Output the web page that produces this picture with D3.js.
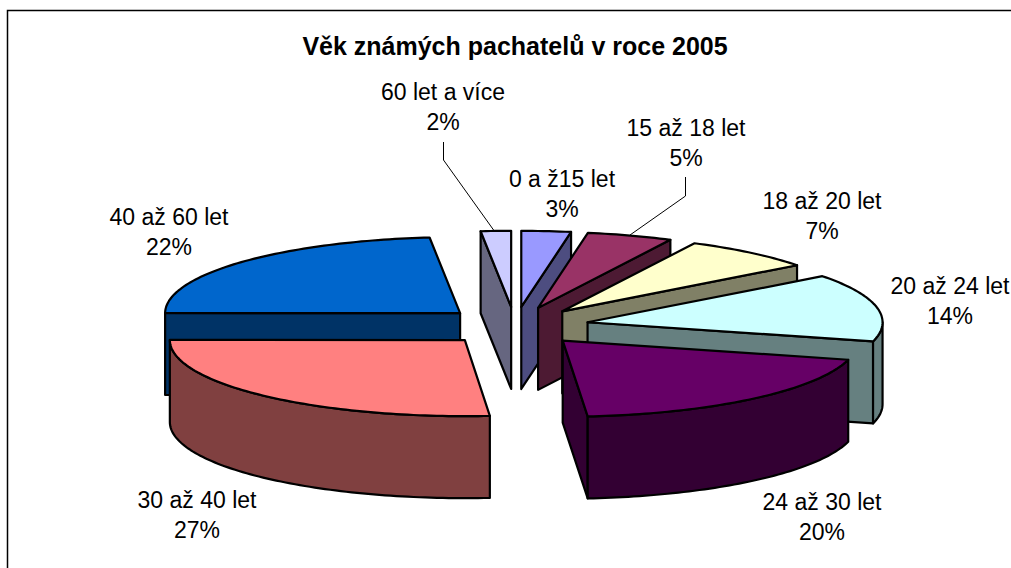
<!DOCTYPE html>
<html>
<head>
<meta charset="utf-8">
<script src="https://cdn.jsdelivr.net/npm/d3@7"></script>
<style>
  html, body { margin: 0; padding: 0; background: #fff; }
  svg { display: block; }
  text { font-family: "Liberation Sans", Arial, sans-serif; fill: #000; }
</style>
</head>
<body>
<script>
//Data.
//shares are the slice widths as drawn (the 3D view stretches them a little),
//percentLabels are the numbers as printed next to the slices
var categories = ["0 a ž15 let","15 až 18 let","18 až 20 let","20 až 24 let","24 až 30 let","30 až 40 let","40 až 60 let","60 let a více"];
var shares = [2.7,4.7,7.25,14.4,19.6,26.4,23.3,1.65];
var percentLabels = ["3%","5%","7%","14%","20%","27%","22%","2%"];
var sliceColors = ["#9999FF","#993366","#FFFFCC","#CCFFFF","#660066","#FF8080","#0066CC","#CCCCFF"];
var titleText = "Věk známých pachatelů v roce 2005";

//Size Globals:
var svgWidth = 1011, svgHeight = 568;
var cx = 515, cy = 326;
var radius = 295;
var tilt = 0.258;
var explode = 74;
var depth = 82;
var lineGap = 29.5;

//back to front, same as the reference stacks them
var drawOrder = [7,0,1,2,3,4,6,5];
//label anchors (first baseline), in category order
var labelPos = [[562,187],[686,136],[822,209],[950,294],[822,510],[197,508],[169,225],[443,100]];

var svg = d3.select("body").append("svg")
    .attr("id","mainsvg")
    .attr("width",svgWidth)
    .attr("height",svgHeight);

//chart frame, only top and left show
svg.append("path")
    .attr("d","M7.5," + svgHeight + "V10.5H" + svgWidth)
    .attr("fill","none")
    .attr("stroke","#000")
    .attr("stroke-width",1.5);

svg.append("text")
    .attr("x",515)
    .attr("y",55)
    .attr("text-anchor","middle")
    .attr("font-size",25)
    .attr("font-weight","bold")
    .text(titleText);

var pie = d3.pie().sort(null).value(function(d){ return d; });
var arcs = pie(shares);

//project a point of the disc onto the screen
function rim(t,apex,drop){
    return [apex[0] + radius * Math.sin(t),
            apex[1] - radius * tilt * Math.cos(t) + drop];
}
function apexOf(a){
    var mid = (a.startAngle + a.endAngle) / 2;
    return [cx + explode * Math.sin(mid), cy - explode * tilt * Math.cos(mid)];
}
function arcPoints(t0,t1,apex,drop){
    var n = Math.max(2,Math.ceil(Math.abs(t1 - t0) / 0.02));
    return d3.range(n + 1).map(function(i){
        return rim(t0 + (t1 - t0) * i / n,apex,drop);
    });
}
function wallColor(c){
    var rgb = d3.rgb(c);
    return d3.rgb(rgb.r / 2,rgb.g / 2,rgb.b / 2).formatHex();
}

var line = d3.line();
var pieGroup = svg.append("g").attr("id","pie");

function drawFace(points,fill){
    pieGroup.append("path")
        .attr("d",line(points) + "Z")
        .attr("fill",fill)
        .attr("stroke","#000")
        .attr("stroke-width",2.2)
        .attr("stroke-linejoin","round");
}

drawOrder.forEach(function(i){
    var a = arcs[i];
    var apex = apexOf(a);
    var apexLow = [apex[0],apex[1] + depth];
    var dark = wallColor(sliceColors[i]);

    //straight walls, only the ones turned to the viewer
    if(Math.sin(a.startAngle) < -1e-6){
        drawFace([apex,rim(a.startAngle,apex,0),rim(a.startAngle,apex,depth),apexLow],dark);
    }
    if(Math.sin(a.endAngle) > 1e-6){
        drawFace([apex,rim(a.endAngle,apex,0),rim(a.endAngle,apex,depth),apexLow],dark);
    }
    //outer wall, near half of the rim
    var from = Math.max(a.startAngle,Math.PI / 2);
    var to = Math.min(a.endAngle,Math.PI * 1.5);
    if(to > from){
        var upper = arcPoints(from,to,apex,0);
        var lower = arcPoints(to,from,apex,depth);
        drawFace(upper.concat(lower),dark);
    }
    //top face
    drawFace([apex].concat(arcPoints(a.startAngle,a.endAngle,apex,0)),sliceColors[i]);
});

//leader lines for the two labels set away from their slices
function leader(pts){
    svg.append("polyline")
        .attr("points",pts.join(" "))
        .attr("fill","none")
        .attr("stroke","#000")
        .attr("stroke-width",1);
}
leader([[443.5,142],[443.5,160],[495,232]]);
leader([[685.5,177],[685.5,196],[630,235]]);

var labels = svg.append("g").attr("id","labels");
categories.forEach(function(name,i){
    var t = labels.append("text")
        .attr("text-anchor","middle")
        .attr("font-size",23);
    t.append("tspan").attr("x",labelPos[i][0]).attr("y",labelPos[i][1]).text(name);
    t.append("tspan").attr("x",labelPos[i][0]).attr("y",labelPos[i][1] + lineGap).text(percentLabels[i]);
});
</script>
</body>
</html>
